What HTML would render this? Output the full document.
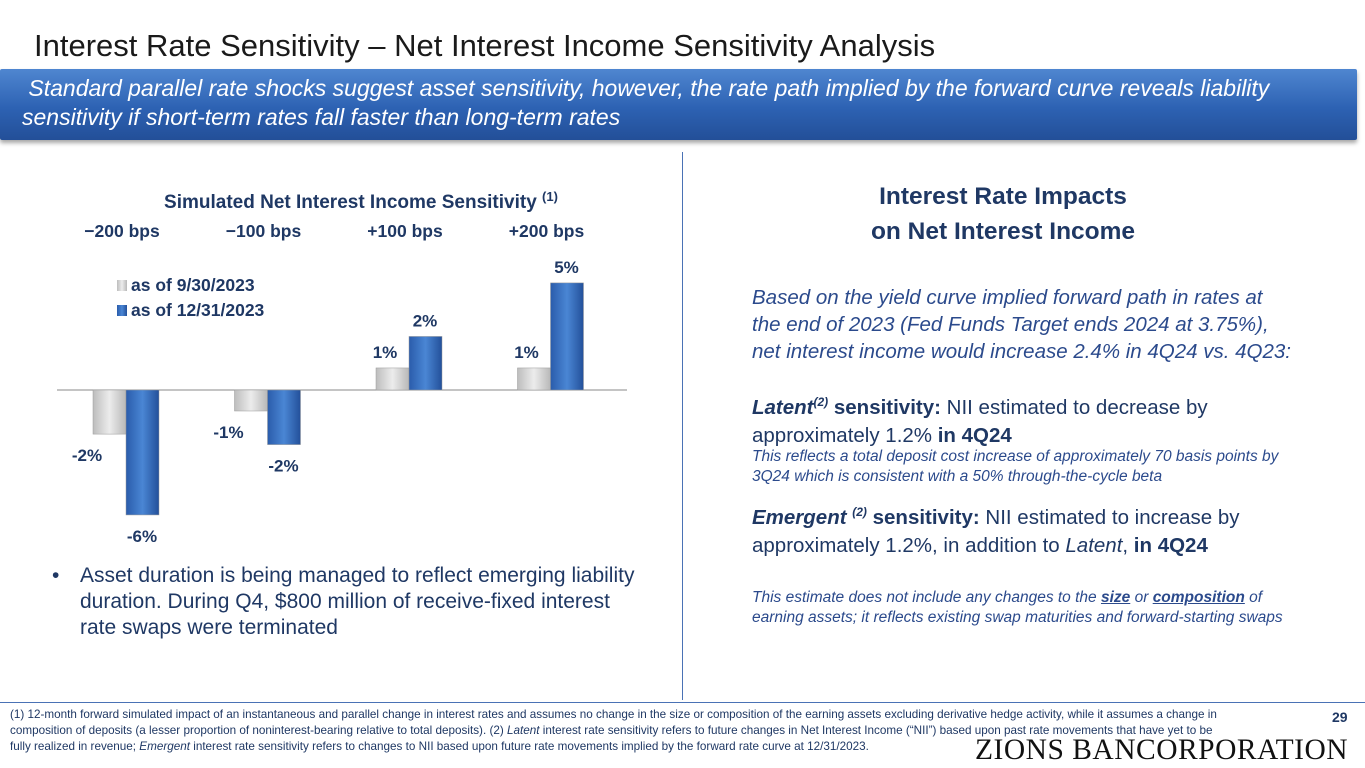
<!DOCTYPE html>
<html><head><meta charset="utf-8">
<style>
body{margin:0;width:1365px;height:768px;overflow:hidden;background:#fff;font-family:"Liberation Sans",sans-serif;position:relative}
.a{position:absolute;white-space:nowrap}
.n{color:#1f3864}
</style></head><body>
<div class="a" style="left:34px;top:28px;font-size:31px;color:#1a1a1a">Interest Rate Sensitivity – Net Interest Income Sensitivity Analysis</div>
<div class="a" style="left:0;top:69px;width:1357px;height:71px;background:linear-gradient(#4f86d0,#2d62b3 55%,#234f98);box-shadow:0 3px 4px rgba(0,0,0,.35);border-radius:2px"></div>
<div class="a" style="left:22px;top:74px;font-size:23px;font-style:italic;color:#fff;line-height:29px">&nbsp;Standard parallel rate shocks suggest asset sensitivity, however, the rate path implied by the forward curve reveals liability<br>sensitivity if short-term rates fall faster than long-term rates</div>

<div class="a" style="left:682px;top:152px;width:1px;height:548px;background:#4a72b5"></div>
<div class="a" style="left:0;top:702px;width:1365px;height:1px;background:#4a72b5"></div>

<svg class="a" style="left:0;top:150px" width="680" height="400" id="chart"></svg>

<div class="a n" style="left:52px;top:563px;font-size:21px;line-height:26px;color:#1f3864">•</div>
<div class="a n" style="left:80px;top:563px;font-size:21px;line-height:26px;color:#1f3864">Asset duration is being managed to reflect emerging liability<br>duration. During Q4, $800 million of receive-fixed interest<br>rate swaps were terminated</div>

<div class="a n" style="left:803px;width:400px;top:179px;text-align:center;font-size:24.5px;font-weight:bold;line-height:35px">Interest Rate Impacts<br>on Net Interest Income</div>
<div class="a" style="left:752px;top:284px;font-size:20.5px;font-style:italic;line-height:27px;color:#2b4a8c">Based on the yield curve implied forward path in rates at<br>the end of 2023 (Fed Funds Target ends 2024 at 3.75%),<br>net interest income would increase 2.4% in 4Q24 vs. 4Q23:</div>
<div class="a n" style="left:752px;top:388px;font-size:20.5px;line-height:28px"><b><i>Latent<sup style="font-size:12px">(2)</sup></i> sensitivity:</b> NII estimated to decrease by<br>approximately 1.2% <b>in 4Q24</b></div>
<div class="a" style="left:752px;top:447px;font-size:15.5px;font-style:italic;line-height:20px;color:#2b4a8c">This reflects a total deposit cost increase of approximately 70 basis points by<br>3Q24 which is consistent with a 50% through-the-cycle beta</div>
<div class="a n" style="left:752px;top:498px;font-size:20.5px;line-height:28px"><b><i>Emergent <sup style="font-size:12px">(2)</sup></i> sensitivity:</b> NII estimated to increase by<br>approximately 1.2%, in addition to <i>Latent</i>, <b>in 4Q24</b></div>
<div class="a" style="left:752px;top:588px;font-size:15.5px;font-style:italic;line-height:20px;color:#2b4a8c">This estimate does not include any changes to the <b><u>size</u></b> or <b><u>composition</u></b> of<br>earning assets; it reflects existing swap maturities and forward-starting swaps</div>

<div class="a" style="left:10px;top:707px;font-size:11.7px;line-height:16px;color:#1f3864">(1) 12-month forward simulated impact of an instantaneous and parallel change in interest rates and assumes no change in the size or composition of the earning assets excluding derivative hedge activity, while it assumes a change in<br>composition of deposits (a lesser proportion of noninterest-bearing relative to total deposits). (2) <i>Latent</i> interest rate sensitivity refers to future changes in Net Interest Income (“NII”) based upon past rate movements that have yet to be<br>fully realized in revenue; <i>Emergent</i> interest rate sensitivity refers to changes to NII based upon future rate movements implied by the forward rate curve at 12/31/2023.</div>
<div class="a" style="left:1332px;top:709px;font-size:14px;font-weight:bold;color:#1f3864">29</div>
<div class="a" style="left:975px;top:734px;font-family:'Liberation Serif',serif;font-size:29.5px;color:#111;letter-spacing:0.5px">ZIONS BANCORPORATION</div>

<script>
const categories=["\u2212200 bps","\u2212100 bps","+100 bps","+200 bps"];
const sep2023=[-2.1,-1.0,1.05,1.05];
const dec2023=[-5.95,-2.6,2.55,5.1];
const sepLabels=["-2%","-1%","1%","1%"];
const decLabels=["-6%","-2%","2%","5%"];
const NS="http://www.w3.org/2000/svg";
const svg=document.getElementById('chart');
const OY=150, base=390-OY, perPct=21;
const y=v=>base-v*perPct;
const xc=i=>126+i*141.5;
function mk(t,attrs){const e=document.createElementNS(NS,t);for(const k in attrs)e.setAttribute(k,attrs[k]);svg.appendChild(e);return e;}
svg.innerHTML='<defs><linearGradient id="gg" x1="0" x2="1"><stop offset="0" stop-color="#bdbdbd"/><stop offset=".5" stop-color="#ececec"/><stop offset="1" stop-color="#b8b8b8"/></linearGradient><linearGradient id="bg" x1="0" x2="1"><stop offset="0" stop-color="#2a5cab"/><stop offset=".5" stop-color="#4a86d4"/><stop offset="1" stop-color="#23509a"/></linearGradient></defs>';
let t=mk('text',{x:361,y:208-OY,'text-anchor':'middle','font-size':19,'font-weight':'bold',fill:'#1f3864'});
t.textContent='Simulated Net Interest Income Sensitivity ';


let sp=document.createElementNS(NS,'tspan');sp.setAttribute('font-size',13);sp.setAttribute('dy',-7);sp.textContent='(1)';t.appendChild(sp);
mk('line',{x1:57,x2:627,y1:base,y2:base,stroke:'#888','stroke-width':1});
categories.forEach((c,i)=>{
  const l=mk('text',{x:xc(i)-4,y:237-OY,'text-anchor':'middle','font-size':17.5,'font-weight':'bold',fill:'#1f3864'});
  l.textContent=c;
  
  
  [[sep2023,'url(#gg)',-33,sepLabels,'bar-sep-2023'],[dec2023,'url(#bg)',0,decLabels,'bar-dec-2023']].forEach(([arr,f,dx,labs,nm])=>{
    const v=arr[i],y0=Math.min(y(v),base),h=Math.abs(y(v)-base);
    const r=mk('rect',{x:xc(i)+dx,y:y0,width:33,height:h,fill:f,stroke:'#999','stroke-width':0.5});
    
    
    const ty=v>=0?y(v)-10:y(v)+27;
    const tl=mk('text',{x:xc(i)+dx+(dx<0?-6:16),y:ty,'text-anchor':'middle','font-size':17,'font-weight':'bold',fill:'#1f3864'});
    if(dx<0&&v>=0)tl.setAttribute('x',xc(i)+dx+9);
    tl.textContent=labs[i];
    
    
  });
});
[['as of 9/30/2023','url(#gg)',291],['as of 12/31/2023','url(#bg)',316]].forEach(([s,f,yy])=>{
  mk('rect',{x:117,y:yy-OY-11,width:10,height:11,fill:f});
  const l=mk('text',{x:131,y:yy-OY,'font-size':17.5,'font-weight':'bold',fill:'#1f3864'});
  l.textContent=s;
  
  
});
</script>
</body></html>
